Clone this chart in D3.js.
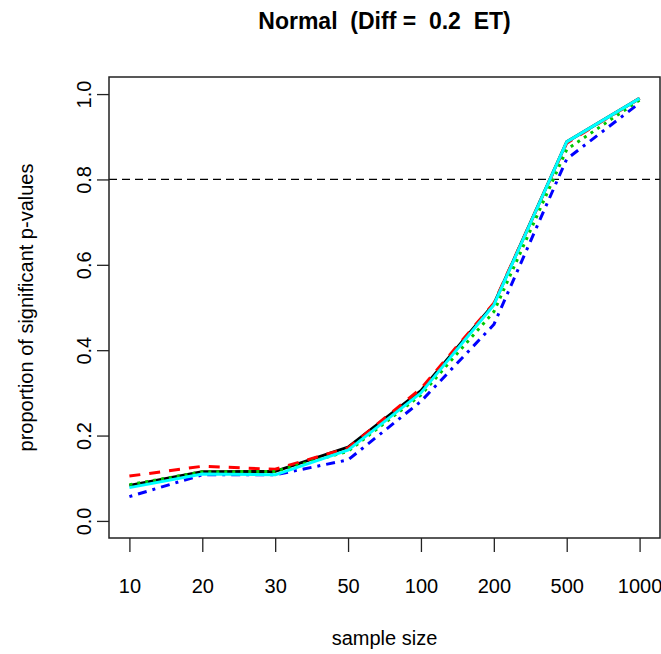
<!DOCTYPE html>
<html>
<head>
<meta charset="utf-8">
<script src="https://cdn.jsdelivr.net/npm/d3@7"></script>
<style>
  body { margin: 0; background: #fff; }
  text { font-family: "Liberation Sans", Arial, sans-serif; fill: #000; }
</style>
</head>
<body>
<div id="chart"></div>
<script>
// sample sizes on the x axis (equally spaced categories)
const sampleSizes = ["10", "20", "30", "50", "100", "200", "500", "1000"];
const yTicks = [0, 0.2, 0.4, 0.6, 0.8, 1.0];
const powerLine = 0.8;

// proportion of significant p-values, one array per test
const blackVals = [0.083, 0.115, 0.116, 0.173, 0.305, 0.508, 0.888, 0.990];
const redVals   = [0.105, 0.128, 0.121, 0.171, 0.310, 0.510, 0.885, 0.990];
const greenVals = [0.085, 0.115, 0.116, 0.163, 0.295, 0.490, 0.870, 0.986];
const blueVals  = [0.057, 0.108, 0.108, 0.143, 0.280, 0.460, 0.848, 0.979];
const cyanVals  = [0.078, 0.110, 0.108, 0.166, 0.300, 0.506, 0.888, 0.990];

const width = 661,
    height = 654;
const box = {left: 109, right: 660, top: 77, bottom: 538};

const svg = d3.select("#chart")
  .append("svg")
    .attr("width", width)
    .attr("height", height);

// R style: 4% padding around the data range
const x = d3.scaleLinear()
    .domain([1 - 0.28, sampleSizes.length + 0.28])
    .range([box.left, box.right]);
const y = d3.scaleLinear()
    .domain([-0.04, 1.04])
    .range([box.bottom, box.top]);

// x axis
const xAxis = svg.append("g")
    .attr("transform", `translate(0, ${box.bottom})`)
    .call(d3.axisBottom(x)
      .tickValues(d3.range(1, sampleSizes.length + 1))
      .tickFormat((d, i) => sampleSizes[i])
      .tickSize(14));
xAxis.select(".domain").remove();
xAxis.selectAll(".tick line").attr("stroke", "#222").attr("stroke-width", 1.3);
xAxis.selectAll(".tick text")
    .attr("y", 55)
    .attr("dy", 0)
    .style("font-size", "20px");

// y axis
const yAxis = svg.append("g")
    .attr("transform", `translate(${box.left}, 0)`)
    .call(d3.axisLeft(y)
      .tickValues(yTicks)
      .tickFormat(d3.format(".1f"))
      .tickSize(12));
yAxis.select(".domain").remove();
yAxis.selectAll(".tick line").attr("stroke", "#222").attr("stroke-width", 1.3);
yAxis.selectAll(".tick text")
    .attr("x", 0)
    .attr("dy", 0)
    .attr("text-anchor", "middle")
    .attr("transform", "translate(-18, 0) rotate(-90)")
    .style("font-size", "20px");

// reference line at 0.8
svg.append("line")
    .attr("x1", box.left)
    .attr("x2", box.right)
    .attr("y1", y(powerLine))
    .attr("y2", y(powerLine))
    .attr("stroke", "#000")
    .attr("stroke-width", 1.2)
    .attr("stroke-dasharray", "8,5");

const series = [
  {vals: blackVals, color: "#000000", dash: null},
  {vals: redVals,   color: "#ff0000", dash: "11,9"},
  {vals: greenVals, color: "#00c800", dash: "3,5"},
  {vals: blueVals,  color: "#0000ff", dash: "3,6,9,6"},
  {vals: cyanVals,  color: "#00ffff", dash: null}
];

const line = d3.line()
    .x((d, i) => x(i + 1))
    .y(d => y(d));

svg.selectAll(".series")
  .data(series)
  .join("path")
    .attr("class", "series")
    .attr("d", d => line(d.vals))
    .attr("fill", "none")
    .attr("stroke", d => d.color)
    .attr("stroke-width", 3)
    .attr("stroke-linejoin", "round")
    .attr("stroke-dasharray", d => d.dash);

// plot box
svg.append("rect")
    .attr("x", box.left)
    .attr("y", box.top)
    .attr("width", box.right - box.left)
    .attr("height", box.bottom - box.top)
    .attr("fill", "none")
    .attr("stroke", "#222")
    .attr("stroke-width", 1.5);

// titles
svg.append("text")
    .attr("x", (box.left + box.right) / 2)
    .attr("y", 29)
    .attr("text-anchor", "middle")
    .style("font-size", "23px")
    .style("font-weight", "bold")
    .style("white-space", "pre")
    .text("Normal  (Diff =  0.2  ET)");

svg.append("text")
    .attr("x", (box.left + box.right) / 2)
    .attr("y", 645)
    .attr("text-anchor", "middle")
    .style("font-size", "20px")
    .text("sample size");

svg.append("text")
    .attr("transform", `translate(33, ${(box.top + box.bottom) / 2}) rotate(-90)`)
    .attr("text-anchor", "middle")
    .style("font-size", "20px")
    .text("proportion of significant p-values");
</script>
</body>
</html>
